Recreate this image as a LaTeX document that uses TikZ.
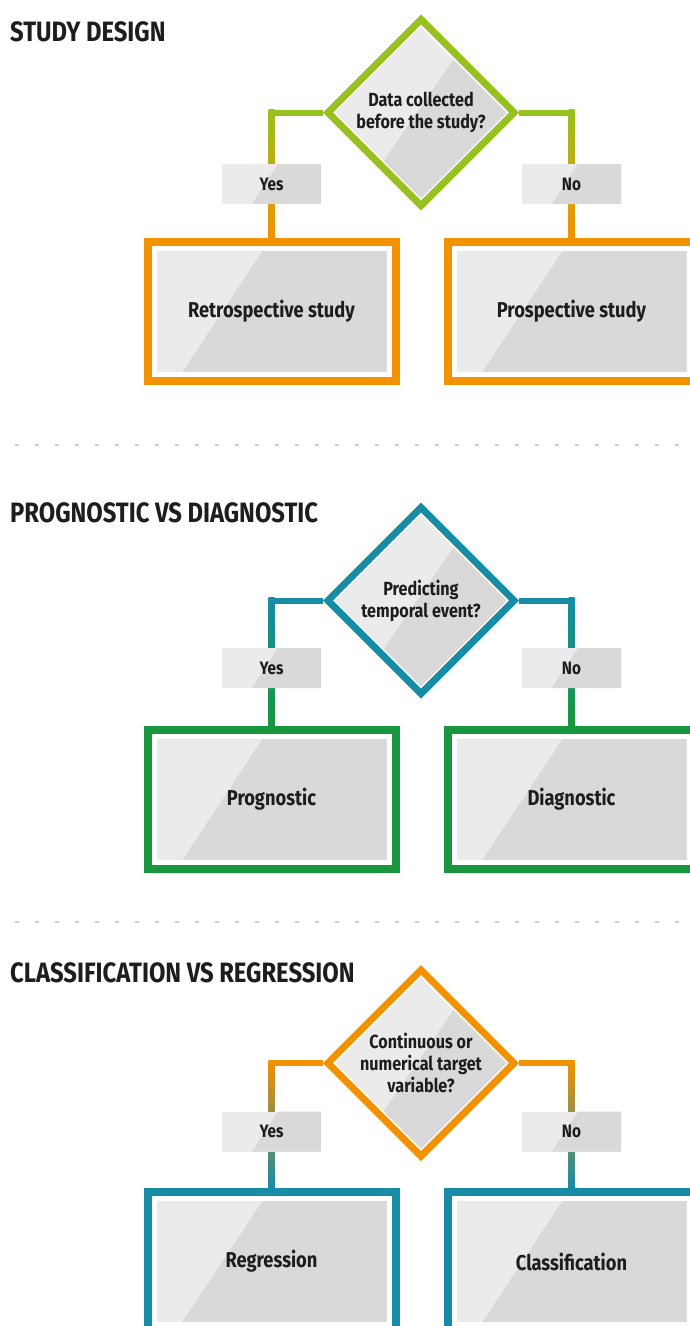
\documentclass[tikz,border=0pt]{standalone}
\usepackage{fontspec}
\setmainfont{Fira Sans}[FakeStretch=0.85]
\usepackage{tikz}
\usetikzlibrary{shapes.geometric,positioning,calc,backgrounds}

\definecolor{lime}{RGB}{151,193,30}
\definecolor{amber}{RGB}{242,146,0}
\definecolor{petrol}{RGB}{23,140,166}
\definecolor{leaf}{RGB}{24,150,62}
\definecolor{paleg}{RGB}{235,235,235}
\definecolor{darkg}{RGB}{217,217,217}
\definecolor{ink}{RGB}{29,29,27}
\definecolor{dashg}{RGB}{205,205,205}

\begin{document}
\begin{tikzpicture}[
    x=1pt, y=-1pt,
    title/.style={anchor=base west, inner sep=0pt, text=ink, font=\bfseries\fontsize{28}{31}\selectfont},
    question/.style={diamond, aspect=1, draw=#1, line width=7pt, fill=white, minimum width=189pt, minimum height=189pt, inner sep=0pt, align=center, text=ink, font=\bfseries\fontsize{19}{22}\selectfont,
        path picture={
            \coordinate (c) at (path picture bounding box.center);
            \begin{scope}
                \clip ($(c)+(0pt,85.5pt)$) -- ($(c)+(85.5pt,0pt)$) -- ($(c)+(0pt,-85.5pt)$) -- ($(c)+(-85.5pt,0pt)$) -- cycle;
                \fill[paleg] ($(c)+(-90pt,-90pt)$) rectangle ($(c)+(90pt,90pt)$);
                \fill[darkg] ($(c)+(-66pt,-90pt)$) -- ($(c)+(58pt,90pt)$) -- ($(c)+(90pt,90pt)$) -- ($(c)+(90pt,-90pt)$) -- cycle;
            \end{scope}
        }},
    outcome/.style={rectangle, draw=#1, line width=8pt, fill=white, minimum width=248pt, minimum height=139pt, inner sep=0pt, text=ink, font=\bfseries\fontsize{21.5}{24}\selectfont,
        path picture={
            \coordinate (sw) at ($(path picture bounding box.south west)+(9pt,9pt)$);
            \coordinate (ne) at ($(path picture bounding box.north east)+(-9pt,-9pt)$);
            \fill[paleg] (sw) rectangle (ne);
            \fill[darkg] ($(sw)+(26pt,0pt)$) -- ($(sw |- ne)+(106pt,0pt)$) -- (ne) -- (ne |- sw) -- cycle;
        }},
    answer/.style={rectangle, minimum width=99pt, minimum height=40pt, inner sep=0pt, fill=paleg, text=ink, font=\bfseries\fontsize{18}{20}\selectfont,
        path picture={
            \fill[darkg] ($(path picture bounding box.south west)+(30pt,0pt)$) -- ($(path picture bounding box.north west)+(56pt,0pt)$) -- (path picture bounding box.north east) -- (path picture bounding box.south east) -- cycle;
        }},
    link/.style={line width=6pt},
    separator/.style={dashg, line width=1.5pt, dash pattern=on 4pt off 16pt}
]
    \useasboundingbox (0,0) rectangle (690,1326);
    \clip (0,0) rectangle (690,1326);

    % Study design
    \node[title] (t1) at (10,41) {STUDY DESIGN};
    \node[question=lime] (dq1) at (421,112.5) {Data collected\\before the study?};
    \node[answer] (yes1) at (271.5,184) {Yes};
    \node[answer] (no1) at (571.5,184) {No};
    \node[outcome=amber] (retro) at (271.5,311.5) {Retrospective study};
    \node[outcome=amber] (prosp) at (571.5,311.5) {Prospective study};

    \draw[separator] (15,445) -- (690,445);

    % Prognostic vs diagnostic
    \node[title] (t2) at (10,522) {PROGNOSTIC VS DIAGNOSTIC};
    \node[question=petrol] (dq2) at (421,600.5) {Predicting\\temporal event?};
    \node[answer] (yes2) at (271.5,668) {Yes};
    \node[answer] (no2) at (571.5,668) {No};
    \node[outcome=leaf] (progn) at (271.5,799.5) {Prognostic};
    \node[outcome=leaf] (diagn) at (571.5,799.5) {Diagnostic};

    \draw[separator] (15,922) -- (690,922);

    % Classification vs regression
    \node[title] (t3) at (10,982) {CLASSIFICATION VS REGRESSION};
    \node[question=amber] (dq3) at (421,1063) {Continuous or\\numerical target\\variable?};
    \node[answer] (yes3) at (271.5,1131.5) {Yes};
    \node[answer] (no3) at (571.5,1131.5) {No};
    \node[outcome=petrol] (regr) at (271.5,1261.5) {Regression};
    \node[outcome=petrol] (class) at (571.5,1261.5) {Classification};

    % Branches
    \begin{scope}[on background layer]
        \fill[white] (0,0) rectangle (690,1326);

        \draw[link, lime] (dq1.west) -- (dq1.west -| yes1.center);
        \shade[top color=lime, bottom color=amber] ($(dq1.west -| yes1.center)+(-3pt,3pt)$) rectangle ($(retro.north)+(3pt,0pt)$);
        \draw[link, lime] (dq1.east) -- (dq1.east -| no1.center);
        \shade[top color=lime, bottom color=amber] ($(dq1.east -| no1.center)+(-3pt,3pt)$) rectangle ($(prosp.north)+(3pt,0pt)$);

        \draw[link, petrol] (dq2.west) -- (dq2.west -| yes2.center);
        \shade[top color=petrol, bottom color=leaf] ($(dq2.west -| yes2.center)+(-3pt,3pt)$) rectangle ($(progn.north)+(3pt,0pt)$);
        \draw[link, petrol] (dq2.east) -- (dq2.east -| no2.center);
        \shade[top color=petrol, bottom color=leaf] ($(dq2.east -| no2.center)+(-3pt,3pt)$) rectangle ($(diagn.north)+(3pt,0pt)$);

        \draw[link, amber] (dq3.west) -- (dq3.west -| yes3.center);
        \shade[top color=amber, bottom color=petrol] ($(dq3.west -| yes3.center)+(-3pt,3pt)$) rectangle ($(regr.north)+(3pt,0pt)$);
        \draw[link, amber] (dq3.east) -- (dq3.east -| no3.center);
        \shade[top color=amber, bottom color=petrol] ($(dq3.east -| no3.center)+(-3pt,3pt)$) rectangle ($(class.north)+(3pt,0pt)$);
    \end{scope}
\end{tikzpicture}
\end{document}
